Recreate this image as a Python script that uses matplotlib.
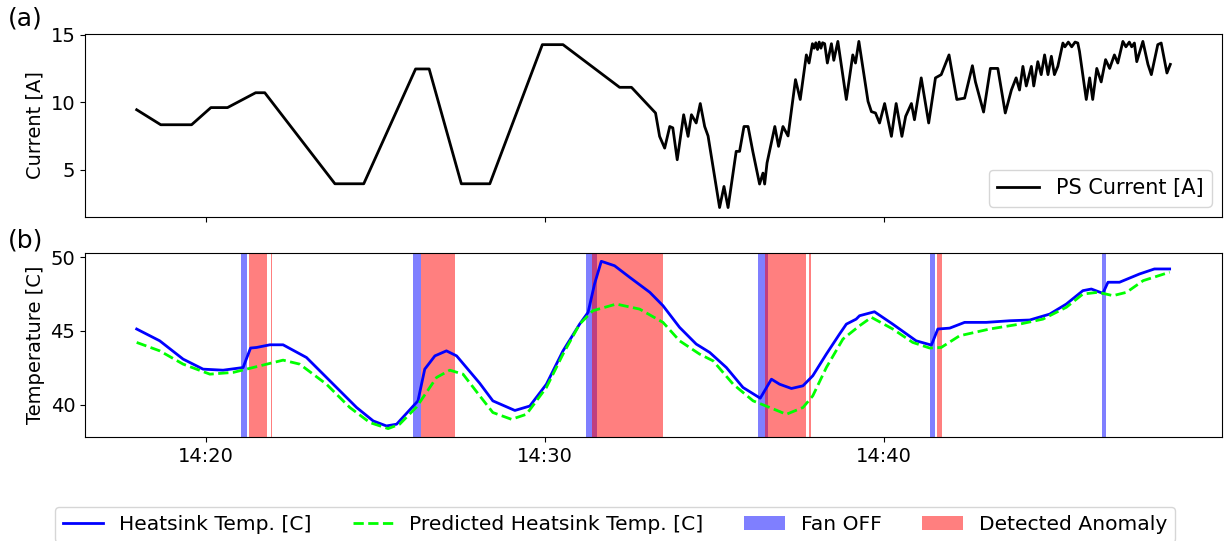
import pandas as pd
import matplotlib
matplotlib.use("Agg")
import matplotlib.pyplot as plt
import matplotlib.dates as mdates
from matplotlib.patches import Patch
from matplotlib.lines import Line2D

# times are minutes after 14:00
cur_min = [17.96, 18.67, 19.58, 20.15, 20.64, 21.47, 21.74, 23.81, 24.66, 26.19, 26.59, 27.54,
           28.38, 29.93, 30.54, 32.21, 32.56, 33.27, 33.39, 33.54, 33.69, 33.78, 33.91, 34.10,
           34.23, 34.33, 34.47, 34.59, 34.72, 34.82, 35.16, 35.29, 35.41, 35.65, 35.75, 35.88,
           36.00, 36.14, 36.34, 36.44, 36.49, 36.56, 36.79, 36.90, 37.03, 37.18, 37.40, 37.54,
           37.72, 37.80, 37.90, 37.95, 38.00, 38.05, 38.10, 38.15, 38.20, 38.26, 38.34, 38.46,
           38.53, 38.65, 38.90, 39.09, 39.17, 39.27, 39.54, 39.64, 39.76, 39.88, 40.03, 40.23,
           40.37, 40.54, 40.65, 40.82, 40.91, 41.11, 41.33, 41.53, 41.70, 41.93, 42.16, 42.39,
           42.62, 42.71, 42.95, 43.15, 43.37, 43.59, 43.77, 43.91, 44.01, 44.11, 44.21, 44.36,
           44.43, 44.55, 44.65, 44.75, 44.85, 44.95, 45.04, 45.14, 45.29, 45.35, 45.45, 45.55,
           45.65, 45.73, 45.78, 45.98, 46.08, 46.17, 46.29, 46.42, 46.55, 46.67, 46.81, 46.91,
           47.06, 47.15, 47.25, 47.32, 47.40, 47.47, 47.65, 47.80, 47.90, 48.09, 48.19, 48.36,
           48.46]
ps_current = [9.44, 8.33, 8.33, 9.6, 9.6, 10.7, 10.7, 3.96, 3.96, 12.46, 12.46, 3.96,
              3.96, 14.26, 14.26, 11.1, 11.1, 9.2, 7.47, 6.6, 8.2, 8.1, 5.74, 9.07,
              7.47, 9.07, 8.46, 9.9, 8.2, 7.5, 2.2, 3.76, 2.2, 6.36, 6.36, 8.2,
              8.2, 6.36, 3.94, 4.75, 3.94, 5.5, 8.2, 6.73, 8.2, 7.5, 11.67, 10.2,
              13.5, 12.9, 14.33, 14.0, 14.4, 13.9, 14.45, 14.0, 14.4, 14.33, 12.9, 14.33,
              13.1, 14.5, 10.2, 13.5, 12.9, 14.5, 10.06, 9.3, 9.2, 8.46, 9.9, 7.47,
              9.9, 7.47, 8.95, 9.9, 8.7, 11.8, 8.46, 11.8, 12.04, 13.5, 10.2, 10.3,
              12.7, 11.5, 9.27, 12.5, 12.5, 9.2, 10.9, 11.8, 10.9, 12.65, 11.2, 12.65,
              11.2, 13.0, 12.04, 13.5, 12.04, 13.4, 12.04, 12.65, 14.38, 14.1, 14.45, 14.1,
              14.45, 14.38, 13.76, 10.2, 11.8, 10.2, 12.5, 11.5, 13.15, 12.5, 13.5, 12.9,
              14.5, 14.1, 14.45, 14.1, 14.38, 13.0, 14.5, 12.8, 12.04, 14.26, 14.38, 12.16,
              12.8]

hs_min = [17.96, 18.64, 19.33, 19.92, 20.51, 21.10, 21.32, 21.50, 21.89, 22.28, 22.97, 23.76,
          24.45, 24.94, 25.33, 25.63, 26.26, 26.46, 26.76, 27.10, 27.40, 28.08, 28.47, 29.12,
          29.56, 30.05, 30.54, 31.03, 31.28, 31.47, 31.67, 32.06, 32.51, 33.10, 33.49, 33.98,
          34.47, 34.87, 35.36, 35.85, 36.36, 36.69, 36.93, 37.28, 37.62, 37.91, 38.31, 38.70,
          38.90, 39.19, 39.29, 39.73, 40.27, 40.96, 41.41, 41.60, 41.95, 42.39, 43.03, 43.72,
          44.31, 44.90, 45.39, 45.88, 46.13, 46.47, 46.62, 46.96, 47.55, 47.99, 48.44]
heatsink = [45.12, 44.32, 43.08, 42.4, 42.33, 42.51, 43.83, 43.87, 44.05, 44.05, 43.19, 41.38,
            39.8, 38.89, 38.55, 38.67, 40.25, 42.4, 43.3, 43.64, 43.3, 41.45, 40.25, 39.6,
            39.9, 41.38, 43.64, 45.45, 46.25, 48.17, 49.71, 49.41, 48.62, 47.61, 46.7, 45.23,
            44.1, 43.53, 42.51, 41.16, 40.43, 41.72, 41.38, 41.09, 41.27, 41.95, 43.42, 44.78,
            45.45, 45.79, 46.02, 46.29, 45.45, 44.32, 44.03, 45.12, 45.18, 45.57, 45.57, 45.68,
            45.73, 46.13, 46.81, 47.72, 47.83, 47.54, 48.29, 48.29, 48.85, 49.19, 49.19]

pred_min = [17.96, 18.64, 19.33, 20.12, 20.81, 21.59, 22.28, 22.77, 23.56, 24.25, 24.84, 25.38,
            25.72, 26.22, 26.81, 27.20, 27.59, 28.08, 28.47, 29.02, 29.46, 30.05, 30.54, 31.03,
            31.42, 32.11, 32.80, 33.49, 33.98, 34.57, 34.97, 35.56, 36.15, 36.64, 37.13, 37.62,
            37.91, 38.31, 38.80, 39.29, 39.64, 40.27, 40.86, 41.36, 41.70, 42.24, 43.13, 44.01,
            44.70, 45.39, 45.88, 46.33, 46.77, 47.17, 47.66, 48.44]
predicted = [44.21, 43.64, 42.74, 42.06, 42.18, 42.62, 43.01, 42.74, 41.38, 39.8, 38.78, 38.37,
             38.67, 39.84, 41.84, 42.33, 42.06, 40.6, 39.46, 39.0, 39.34, 41.16, 43.42, 45.45,
             46.36, 46.81, 46.47, 45.57, 44.32, 43.42, 42.96, 41.38, 40.25, 39.8, 39.34, 39.8,
             40.59, 42.51, 44.44, 45.34, 45.91, 45.12, 44.21, 43.83, 43.87, 44.66, 45.12, 45.45,
             45.79, 46.59, 47.49, 47.61, 47.38, 47.61, 48.4, 48.97]

fan_off_start = [21.03, 26.12, 31.21, 36.29, 41.36, 46.43]
fan_off_end = [21.23, 26.36, 31.53, 36.60, 41.53, 46.55]
anomaly_start = [21.27, 21.91, 26.36, 31.41, 33.47, 36.51, 37.79, 41.57]
anomaly_end = [21.82, 21.95, 27.35, 33.45, 33.50, 37.72, 37.87, 41.71]

base = pd.Timestamp("2023-01-01 14:00")


def to_time(mins):
    return base + pd.to_timedelta(mins, unit="min")


plt.rcParams["font.size"] = 14

fig = plt.figure(figsize=(12.3, 5.41), dpi=100)
ax1 = fig.add_axes([0.0691, 0.5989, 0.9244, 0.3383])
ax2 = fig.add_axes([0.0691, 0.1922, 0.9244, 0.3401], sharex=ax1)

# (a) power supply current
ax1.plot(to_time(cur_min), ps_current, color="black", lw=2, label="PS Current [A]")
ax1.set_ylabel("Current [A]")
ax1.set_ylim(1.5, 15.05)
ax1.legend(loc="lower right", fontsize=15)
ax1.tick_params(labelbottom=False)

# (b) heatsink temperature with fan-off and anomaly spans
for s, e in zip(fan_off_start, fan_off_end):
    ax2.axvspan(to_time(s), to_time(e), color="blue", alpha=0.5, lw=0)
for s, e in zip(anomaly_start, anomaly_end):
    ax2.axvspan(to_time(s), to_time(e), color="red", alpha=0.5, lw=0)
ax2.plot(to_time(hs_min), heatsink, color="blue", lw=2)
ax2.plot(to_time(pred_min), predicted, color="lime", lw=2, ls="--")
ax2.set_ylabel("Temperature [C]")
ax2.set_ylim(37.8, 50.27)

ax2.xaxis.set_major_locator(mdates.MinuteLocator(byminute=[0, 10, 20, 30, 40, 50]))
ax2.xaxis.set_major_formatter(mdates.DateFormatter("%H:%M"))

fig.text(0.006, 0.965, "(a)", fontsize=18, va="center")
fig.text(0.006, 0.555, "(b)", fontsize=18, va="center")

handles = [Line2D([], [], color="blue", lw=2),
           Line2D([], [], color="lime", lw=2, ls="--"),
           Patch(facecolor="blue", alpha=0.5),
           Patch(facecolor="red", alpha=0.5)]
labels = ["Heatsink Temp. [C]", "Predicted Heatsink Temp. [C]", "Fan OFF", "Detected Anomaly"]
fig.legend(handles, labels, loc="upper center", bbox_to_anchor=(0.5, 0.081), ncol=4,
           fontsize=14.6, columnspacing=2.0)

fig.savefig("out.png", dpi=100)
